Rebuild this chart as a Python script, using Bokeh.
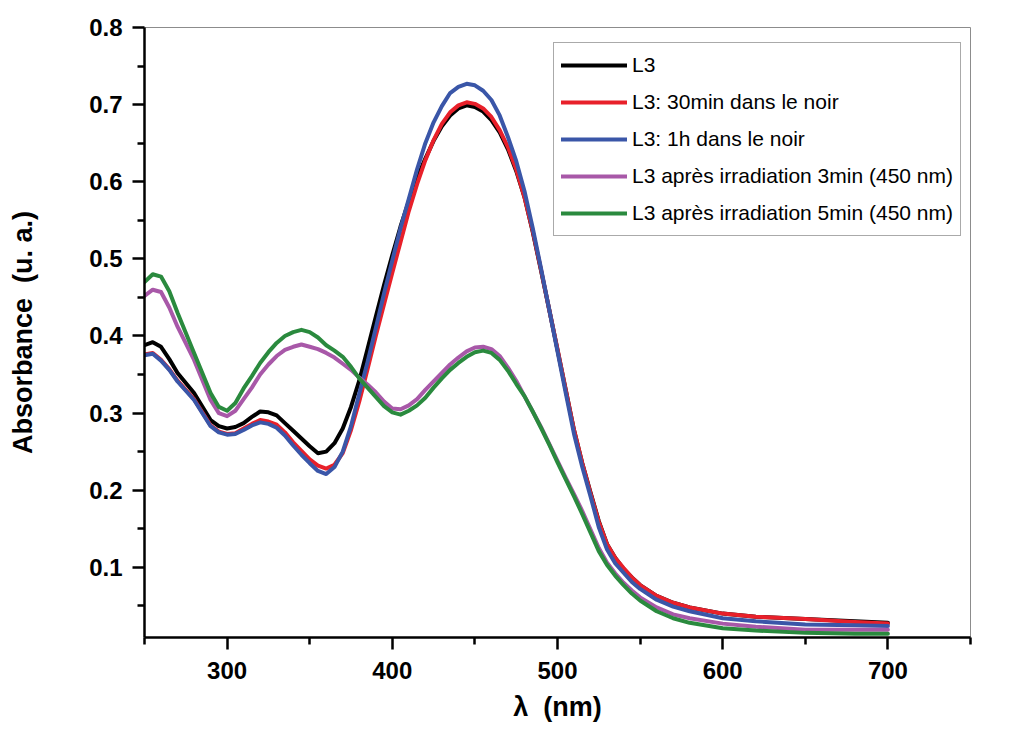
from bokeh.plotting import figure
from bokeh.models import Range1d, FixedTicker, NumeralTickFormatter, Legend, LegendItem
from bokeh.embed import file_html
from bokeh.resources import INLINE

wavelength = [250, 255, 260, 265, 270, 280, 290, 295, 300, 305,
              310, 315, 320, 325, 330, 335, 340, 345, 350, 355,
              360, 365, 370, 375, 380, 385, 390, 395, 400, 405,
              410, 415, 420, 425, 430, 435, 440, 445, 450, 455,
              460, 465, 470, 475, 480, 485, 490, 495, 500, 505,
              510, 515, 520, 525, 530, 535, 540, 545, 550, 560,
              570, 580, 600, 620, 650, 680, 700]

l3 = [0.388, 0.392, 0.386, 0.370, 0.352, 0.326, 0.291, 0.283, 0.280, 0.282,
      0.287, 0.295, 0.302, 0.301, 0.297, 0.287, 0.277, 0.267, 0.257, 0.248,
      0.250, 0.261, 0.280, 0.308, 0.342, 0.383, 0.425, 0.466, 0.505, 0.542,
      0.575, 0.605, 0.630, 0.653, 0.672, 0.686, 0.695, 0.699, 0.697, 0.691,
      0.680, 0.664, 0.642, 0.614, 0.580, 0.535, 0.485, 0.434, 0.382, 0.330,
      0.278, 0.235, 0.197, 0.160, 0.130, 0.112, 0.098, 0.087, 0.077, 0.063,
      0.054, 0.048, 0.040, 0.036, 0.033, 0.030, 0.028]

l3_30min = [0.376, 0.378, 0.369, 0.357, 0.342, 0.318, 0.284, 0.276, 0.273, 0.274,
            0.280, 0.286, 0.291, 0.289, 0.285, 0.275, 0.262, 0.251, 0.240, 0.232,
            0.228, 0.233, 0.248, 0.278, 0.315, 0.357, 0.400, 0.441, 0.482, 0.522,
            0.562, 0.597, 0.628, 0.654, 0.675, 0.690, 0.699, 0.703, 0.701, 0.695,
            0.684, 0.667, 0.645, 0.616, 0.580, 0.536, 0.486, 0.434, 0.383, 0.330,
            0.278, 0.235, 0.196, 0.159, 0.130, 0.112, 0.099, 0.087, 0.077, 0.063,
            0.054, 0.048, 0.040, 0.036, 0.033, 0.029, 0.027]

l3_1h = [0.375, 0.377, 0.368, 0.356, 0.341, 0.317, 0.283, 0.275, 0.272, 0.273,
         0.278, 0.284, 0.288, 0.286, 0.281, 0.271, 0.258, 0.246, 0.235, 0.225,
         0.221, 0.230, 0.250, 0.283, 0.325, 0.366, 0.410, 0.455, 0.498, 0.540,
         0.578, 0.616, 0.650, 0.677, 0.698, 0.715, 0.723, 0.727, 0.725, 0.718,
         0.706, 0.686, 0.658, 0.627, 0.588, 0.540, 0.488, 0.434, 0.380, 0.326,
         0.273, 0.230, 0.192, 0.152, 0.123, 0.105, 0.093, 0.081, 0.072, 0.058,
         0.049, 0.043, 0.034, 0.030, 0.026, 0.025, 0.024]

l3_irr3 = [0.452, 0.460, 0.457, 0.437, 0.412, 0.369, 0.317, 0.300, 0.296, 0.303,
           0.318, 0.333, 0.350, 0.363, 0.374, 0.382, 0.386, 0.389, 0.386, 0.383,
           0.378, 0.372, 0.364, 0.356, 0.346, 0.337, 0.327, 0.315, 0.306, 0.305,
           0.310, 0.318, 0.330, 0.341, 0.352, 0.363, 0.372, 0.380, 0.385, 0.386,
           0.383, 0.374, 0.359, 0.342, 0.322, 0.302, 0.282, 0.260, 0.238, 0.216,
           0.195, 0.173, 0.149, 0.125, 0.106, 0.092, 0.080, 0.070, 0.061, 0.048,
           0.039, 0.034, 0.027, 0.023, 0.019, 0.019, 0.019]

l3_irr5 = [0.470, 0.480, 0.477, 0.458, 0.430, 0.378, 0.326, 0.308, 0.303, 0.313,
           0.332, 0.348, 0.365, 0.379, 0.391, 0.400, 0.405, 0.408, 0.405, 0.398,
           0.388, 0.381, 0.373, 0.360, 0.345, 0.333, 0.321, 0.309, 0.301, 0.298,
           0.303, 0.310, 0.320, 0.333, 0.345, 0.356, 0.365, 0.373, 0.379, 0.381,
           0.378, 0.369, 0.355, 0.338, 0.322, 0.302, 0.281, 0.259, 0.236, 0.214,
           0.192, 0.169, 0.145, 0.121, 0.103, 0.089, 0.077, 0.066, 0.057, 0.043,
           0.034, 0.028, 0.021, 0.018, 0.015, 0.014, 0.014]

series_labels = ["L3", "L3: 30min dans le noir", "L3: 1h dans le noir",
                 "L3 après irradiation 3min (450 nm)", "L3 après irradiation 5min (450 nm)"]
series_colors = ["#000000", "#E8202A", "#3A56A8", "#A858A8", "#2A8A3E"]
series_values = [l3, l3_30min, l3_1h, l3_irr3, l3_irr5]

x_major = [300, 400, 500, 600, 700]
x_minor = [250, 350, 450, 550, 650, 750]
y_major = [0.1, 0.2, 0.3, 0.4, 0.5, 0.6, 0.7, 0.8]
y_minor = [0.05, 0.15, 0.25, 0.35, 0.45, 0.55, 0.65, 0.75]

p = figure(width=1001, height=724, output_backend="svg", toolbar_location=None,
           x_range=Range1d(250, 750), y_range=Range1d(0.009, 0.8),
           min_border_left=144, min_border_right=31, min_border_top=27,
           min_border_bottom=86)

p.background_fill_color = "white"
p.border_fill_color = "white"
p.outline_line_color = "#8c8c8c"
p.outline_line_width = 1
p.xgrid.visible = False
p.ygrid.visible = False

items = []
for lab, col, vals in zip(series_labels, series_colors, series_values):
    r = p.line(wavelength, vals, line_color=col, line_width=4, line_join="round", line_cap="round")
    items.append(LegendItem(label=lab, renderers=[r]))

for ax in (p.xaxis[0], p.yaxis[0]):
    ax.axis_line_width = 2.5
    ax.axis_line_color = "black"
    ax.major_tick_line_width = 2.5
    ax.minor_tick_line_width = 2.5
    ax.major_tick_in = 0
    ax.minor_tick_in = 0
    ax.major_tick_out = 12
    ax.minor_tick_out = 7
    ax.major_label_text_font = "Liberation Sans"
    ax.major_label_text_font_style = "bold"
    ax.major_label_text_font_size = "24px"
    ax.major_label_text_color = "black"
    ax.axis_label_text_font = "Liberation Sans"
    ax.axis_label_text_font_style = "bold"
    ax.axis_label_text_font_size = "27px"
    ax.axis_label_text_color = "black"

p.xaxis.ticker = FixedTicker(ticks=x_major, minor_ticks=x_minor)
p.yaxis.ticker = FixedTicker(ticks=y_major, minor_ticks=y_minor)
p.yaxis.formatter = NumeralTickFormatter(format="0.0")
p.xaxis.major_label_standoff = 12
p.yaxis.major_label_standoff = 10
p.xaxis.axis_label = "λ\u00a0\u00a0(nm)"
p.yaxis.axis_label = "Absorbance\u00a0\u00a0(u. a.)"
p.xaxis.axis_label_standoff = 10
p.yaxis.axis_label_standoff = 48

legend = Legend(items=items, location=(409, 401))
legend.label_text_font = "Liberation Sans"
legend.label_text_font_size = "21px"
legend.label_text_color = "black"
legend.glyph_width = 66
legend.glyph_height = 30
legend.label_height = 30
legend.spacing = 7
legend.padding = 7
legend.margin = 0
legend.label_standoff = 5
legend.border_line_color = "#555555"
legend.border_line_width = 1.5
legend.background_fill_color = "white"
legend.background_fill_alpha = 1.0
p.add_layout(legend)

open("out.html", "w").write(file_html(p, INLINE))
